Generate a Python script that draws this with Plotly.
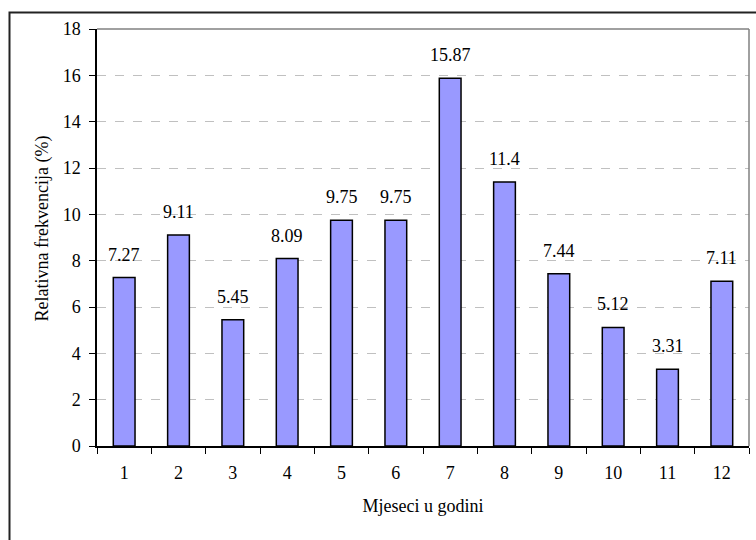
import plotly.graph_objects as go

months = ["1", "2", "3", "4", "5", "6", "7", "8", "9", "10", "11", "12"]
values = [7.27, 9.11, 5.45, 8.09, 9.75, 9.75, 15.87, 11.4, 7.44, 5.12, 3.31, 7.11]
value_labels = ["7.27", "9.11", "5.45", "8.09", "9.75", "9.75", "15.87", "11.4", "7.44", "5.12", "3.31", "7.11"]
y_ticks = [0, 2, 4, 6, 8, 10, 12, 14, 16, 18]
x_title = "Mjeseci u godini"
y_title = "Relativna frekvencija (%)"

FONT = "Times New Roman, Liberation Serif, DejaVu Serif, serif"
FS = 18

fig = go.Figure()
fig.add_trace(go.Bar(
    x=months, y=values,
    marker=dict(color="#9999FF", line=dict(color="black", width=1.5)),
    width=0.4,
    hoverinfo="x+y",
))

L, R, T, B = 97, 7, 29, 94
W, H = 756, 540
pw, ph = W - L - R, H - T - B

def px_x(p):
    return (p - L) / pw

def px_y(p):
    return (H - B - p) / ph

annotations = []
for i, (v, t) in enumerate(zip(values, value_labels)):
    annotations.append(dict(x=i, y=v, text=t, showarrow=False, xref="x", yref="y",
                            yanchor="middle", yshift=23,
                            font=dict(family=FONT, size=FS, color="black")))
annotations.append(dict(x=px_x(41.5), y=px_y(229), xref="paper", yref="paper",
                        text=y_title, textangle=-90, showarrow=False,
                        xanchor="center", yanchor="middle",
                        font=dict(family=FONT, size=FS, color="black")))

shapes = [
    dict(type="line", xref="paper", yref="paper", x0=0, x1=1, y0=1, y1=1,
         line=dict(color="#808080", width=1.5)),
    dict(type="line", xref="paper", yref="paper", x0=1, x1=1, y0=0, y1=1,
         line=dict(color="#808080", width=1.5)),
    dict(type="rect", xref="paper", yref="paper",
         x0=px_x(9.5), x1=px_x(770), y0=px_y(560), y1=px_y(12.5),
         line=dict(color="#222222", width=2), fillcolor="rgba(0,0,0,0)", layer="below"),
]

fig.update_layout(
    width=W, height=H,
    margin=dict(l=L, r=R, t=T, b=B, autoexpand=False),
    paper_bgcolor="white", plot_bgcolor="white",
    showlegend=False,
    font=dict(family=FONT, size=FS, color="black"),
    annotations=annotations,
    shapes=shapes,
    xaxis=dict(
        type="category",
        range=[-0.5, 11.5],
        tickson="boundaries",
        ticks="outside", ticklen=6, tickcolor="black", tickwidth=1,
        ticklabelstandoff=10,
        showline=True, linecolor="black", linewidth=1.5,
        showgrid=False,
        tickfont=dict(family=FONT, size=FS),
        title=dict(text=x_title, font=dict(family=FONT, size=FS), standoff=17),
        automargin=False,
    ),
    yaxis=dict(
        range=[0, 18],
        tickvals=y_ticks,
        ticks="outside", ticklen=6, tickcolor="black", tickwidth=1,
        ticklabelstandoff=5,
        showline=True, linecolor="black", linewidth=1.5,
        showgrid=True, gridcolor="#C0C0C0", griddash="dash", gridwidth=1,
        zeroline=False,
        tickfont=dict(family=FONT, size=FS),
        automargin=False,
    ),
)

fig.write_html("out.html", config={"displayModeBar": False},
               post_script="document.body.style.margin='0';document.body.style.overflow='hidden';")
